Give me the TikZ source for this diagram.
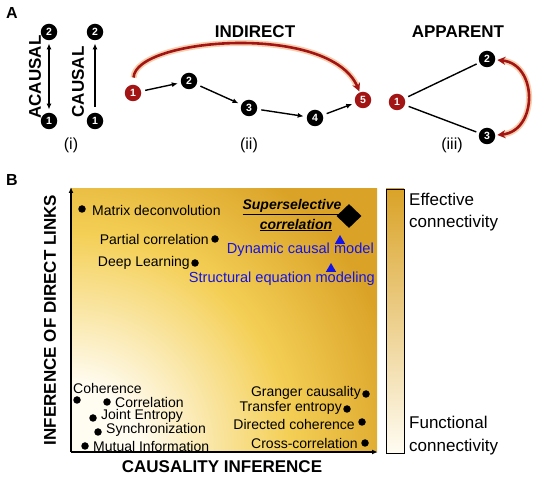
\documentclass[tikz,border=0pt]{standalone}
\usepackage{fontspec}
\setmainfont{Liberation Sans}
\usetikzlibrary{arrows.meta,shapes.geometric,shadings}
\definecolor{dred}{HTML}{A31515}
\definecolor{halo}{HTML}{F7CFAE}
\definecolor{gold}{HTML}{DAA328}
\definecolor{goldm}{HTML}{EBBE42}
\definecolor{goldl}{HTML}{F4CF55}
\definecolor{cream}{HTML}{FFFCF2}
\definecolor{mblue}{HTML}{1414E6}
\pgfdeclareradialshading{plotshade}{\pgfpoint{0bp}{0bp}}{color(0bp)=(cream); color(4bp)=(cream); color(13bp)=(goldl); color(20bp)=(gold); color(25bp)=(gold); color(50bp)=(gold)}
\begin{document}
\begin{tikzpicture}[x=1pt,y=-1pt,
  nb/.style={circle,fill=black,text=white,inner sep=0pt,minimum size=16.5pt,font=\bfseries\fontsize{10.5}{10.5}\selectfont},
  nr/.style={nb,fill=dred},
  blink/.style={line width=1.4pt,shorten <=4pt,shorten >=3pt},
  barr/.style={blink,-{Latex[length=6pt,width=5pt]}},
  rarr/.style={draw=dred,line width=2.6pt,preaction={draw=halo,line width=6pt}},
  title/.style={font=\bfseries\fontsize{17}{17}\selectfont,inner sep=0pt},
  sub/.style={font=\fontsize{16}{16}\selectfont,inner sep=0pt},
  plbl/.style={font=\bfseries\fontsize{16}{16}\selectfont,inner sep=0pt},
  mtxt/.style={font=\fontsize{14}{14}\selectfont,inner sep=0pt},
  btxt/.style={font=\fontsize{14.6}{15}\selectfont,inner sep=0pt,text=mblue},
  ltxt/.style={font=\fontsize{17}{17}\selectfont,inner sep=0pt},
  bdot/.style={circle,fill=black,inner sep=0pt,minimum size=7.5pt},
  btri/.style={regular polygon,regular polygon sides=3,fill=mblue,inner sep=0pt,minimum size=12pt}]
\useasboundingbox (0,0) rectangle (536,478);
% ---------- panel A ----------
\node[plbl] (lA) at (12,13) {A};
% (i)
\node[nb] (a2) at (49,32) {2};
\node[nb] (a1) at (49,121) {1};
\node[nb] (c2) at (95,32) {2};
\node[nb] (c1) at (95,121) {1};
\draw[blink,{Latex[length=6pt,width=5pt]}-{Latex[length=6pt,width=5pt]},shorten <=3pt] (a1) -- (a2);
\draw[barr,shorten <=6pt] (c1) -- (c2);
\node[title,rotate=90] (tac) at (35,77) {ACAUSAL};
\node[title,rotate=90] (tca) at (78,82) {CAUSAL};
\node[sub] (si) at (71,145) {(i)};
% (ii)
\node[nr] (i1) at (133,93) {1};
\node[nb] (i2) at (189,81) {2};
\node[nb] (i3) at (249,108) {3};
\node[nb] (i4) at (315,118) {4};
\node[nr] (i5) at (363,100) {5};
\draw[barr] (i1) -- (i2);
\draw[barr] (i2) -- (i3);
\draw[barr] (i3) -- (i4);
\draw[barr] (i4) -- (i5);
\draw[rarr,-{Stealth[length=8pt,width=8pt]},shorten <=7pt,shorten >=1pt] (i1) .. controls (135,38) and (330,22) .. (i5);
\node[title] (tin) at (255,32) {INDIRECT};
\node[sub] (sii) at (249,145) {(ii)};
% (iii)
\node[nr] (p1) at (397,102) {1};
\node[nb] (p2) at (487,59) {2};
\node[nb] (p3) at (487,136) {3};
\draw[blink] (p1) -- (p2);
\draw[blink] (p1) -- (p3);
\draw[rarr,{Stealth[length=8pt,width=8pt]}-{Stealth[length=8pt,width=8pt]},shorten <=2pt,shorten >=2pt] (p2) .. controls (538,64) and (538,131) .. (p3);
\node[title] (tap) at (458,32) {APPARENT};
\node[sub] (siii) at (452,145) {(iii)};
% ---------- panel B ----------
\node[plbl] (lB) at (12,180) {B};
\begin{scope}
\clip (71,189) rectangle (377,451);
\shade[shading=plotshade] (71,451) circle (420);
\end{scope}
\coordinate (o) at (71,452);
\coordinate (ytop) at (71,187);
\coordinate (xend) at (378,452);
\draw[line width=1.2pt,-{Latex[length=6pt,width=5pt]}] (o) -- (ytop);
\draw[line width=1.2pt,-{Latex[length=6pt,width=5pt]}] (o) -- (xend);
\node[title,rotate=90] (yl) at (50,320) {INFERENCE OF DIRECT LINKS};
\node[title] (xl) at (222,467) {CAUSALITY INFERENCE};
% colour bar
\shade[top color=gold,middle color=goldl,bottom color=cream] (386,189) rectangle (404,453);
\draw[line width=0.9pt] (386,189) rectangle (404,453);
\node[ltxt,anchor=west] (ef1) at (409,199) {Effective};
\node[ltxt,anchor=west] (ef2) at (409,223) {connectivity};
\node[ltxt,anchor=west] (fu1) at (409,422) {Functional};
\node[ltxt,anchor=west] (fu2) at (409,447) {connectivity};
% top-left points
\node[bdot] (d1) at (82,209) {};
\node[mtxt,anchor=west] (t1) at (92,210) {Matrix deconvolution};
\node[bdot] (d2) at (215,239) {};
\node[mtxt,anchor=east] (t2) at (209,239) {Partial correlation};
\node[bdot] (d3) at (195,263) {};
\node[mtxt,anchor=east] (t3) at (190,263) {Deep Learning};
% superselective
\node[font=\bfseries\itshape\fontsize{14}{14}\selectfont,inner sep=0pt] (s1) at (292,207) {\underline{Superselective}};
\node[font=\bfseries\itshape\fontsize{14}{14}\selectfont,inner sep=0pt] (s2) at (296,225) {\underline{correlation}};
\node[diamond,fill=black,inner sep=0pt,minimum width=25pt,minimum height=24pt] (dia) at (349,216) {};
% blue
\node[btri] (tr1) at (340,241) {};
\node[btxt,anchor=east] (bl1) at (374,250) {Dynamic causal model};
\node[btri] (tr2) at (331,269) {};
\node[btxt,anchor=east] (bl2) at (375,279) {Structural equation modeling};
% bottom-left
\node[mtxt,anchor=west] (t4) at (73,388) {Coherence};
\node[bdot] (d4) at (77,400) {};
\node[bdot] (d5) at (107,402) {};
\node[mtxt,anchor=west] (t5) at (115,402) {Correlation};
\node[bdot] (d6) at (93,418) {};
\node[mtxt,anchor=west] (t6) at (101,416) {Joint Entropy};
\node[bdot] (d7) at (98,432) {};
\node[mtxt,anchor=west] (t7) at (106,430) {Synchronization};
\node[bdot] (d8) at (85,446) {};
\node[mtxt,anchor=west] (t8) at (93,446) {Mutual Information};
% bottom-right
\node[bdot] (d9) at (366,394) {};
\node[mtxt,anchor=east] (t9) at (361,393) {Granger causality};
\node[bdot] (d10) at (347,409) {};
\node[mtxt,anchor=east] (t10) at (342,408) {Transfer entropy};
\node[bdot] (d11) at (362,422) {};
\node[mtxt,anchor=east] (t11) at (355,424) {Directed coherence};
\node[bdot] (d12) at (365,443) {};
\node[mtxt,anchor=east] (t12) at (358,443) {Cross-correlation};
\end{tikzpicture}
\end{document}
